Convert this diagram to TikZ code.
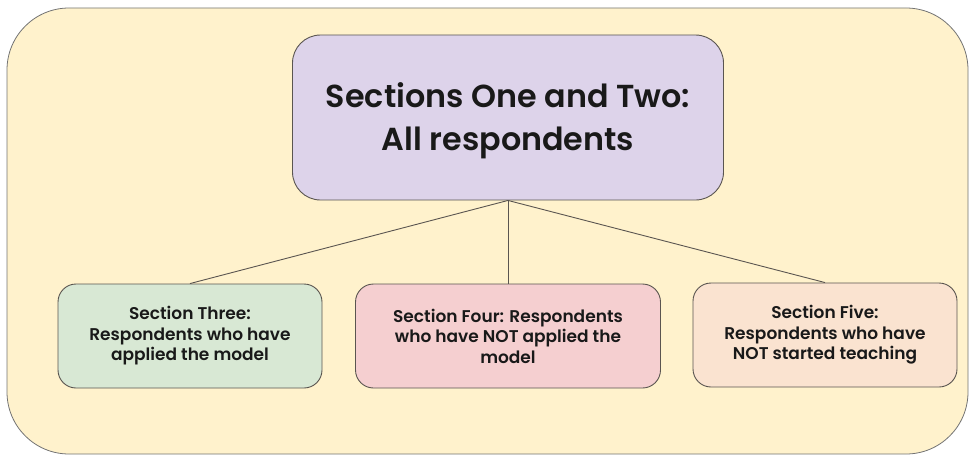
\documentclass[tikz,border=0pt]{standalone}
\usepackage{fontspec}
\setmainfont{Poppins SemiBold}
\definecolor{outerfill}{HTML}{FFF2CC}
\definecolor{topfill}{HTML}{DDD3EA}
\definecolor{greenfill}{HTML}{D8E8D4}
\definecolor{pinkfill}{HTML}{F5CFD0}
\definecolor{peachfill}{HTML}{FAE3D0}
\definecolor{edgegray}{HTML}{5A5550}
\begin{document}
\begin{tikzpicture}[x=1pt,y=-1pt,
  panel/.style={draw=edgegray, line width=0.9pt, rounded corners=18pt, align=center, text=black!90},
  small/.style={font=\fontsize{17}{20.5}\selectfont},
  link/.style={draw=edgegray, line width=0.9pt}]
\useasboundingbox (0,0) rectangle (977,460);
% background panel
\draw[draw=black!55, line width=0.8pt, fill=outerfill, rounded corners=62pt] (7,8) rectangle (968,454);
% top box
\node[panel, fill=topfill, rounded corners=28pt, minimum width=431pt, minimum height=165pt] (top) at (508,117.5) {};
\node[font=\fontsize{31.8}{43}\selectfont, align=center, text=black!90] (toptext) at (508,121)
      {Sections One and Two:\\All respondents};
% three section boxes
\node[panel, fill=greenfill, minimum width=264pt, minimum height=104pt, small] (three) at (190,336)
      {Section Three:\\Respondents who have\\applied the model};
\node[panel, fill=pinkfill, minimum width=305pt, minimum height=104pt, small] (four) at (508,336)
      {Section Four: Respondents\\who have NOT applied the\\model};
\node[panel, fill=peachfill, minimum width=264pt, minimum height=104pt, small] (five) at (825,335)
      {Section Five:\\Respondents who have\\NOT started teaching};
% connectors
\coordinate (hub) at (top.south);
\draw[link] (hub) -- (three.north);
\draw[link] (hub) -- (four.north);
\draw[link] (hub) -- (five.north);
\end{tikzpicture}
\end{document}
